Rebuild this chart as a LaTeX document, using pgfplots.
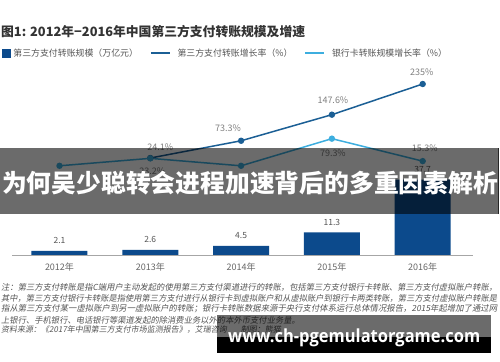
\documentclass[border=0pt]{standalone}
\usepackage{fontspec}
\setmainfont{Noto Sans CJK SC}
\newfontfamily\noteit{Noto Sans CJK SC}[FakeSlant=0.18]
\newfontfamily\wmfont{Open Sans}
\usepackage{pgfplots}
\pgfplotsset{compat=1.18}
\definecolor{barblue}{HTML}{0C4A8C}
\definecolor{darkline}{HTML}{1B5F95}
\definecolor{lightline}{HTML}{3DAEDF}
\definecolor{txtgray}{HTML}{555555}
\definecolor{pctgray}{HTML}{808080}
\definecolor{titlegray}{HTML}{333333}
\newcommand{\fs}[1]{\fontsize{#1}{#1}\selectfont}
\pgfplotsset{/pgf/number format/assume math mode=true}

\begin{document}
\begin{tikzpicture}[x=1bp,y=1bp]
\path[use as bounding box, fill=white] (0bp,0bp) rectangle (500bp,362bp);
% title
\node[anchor=west, inner sep=0, text=titlegray, font=\fs{12.8bp}\bfseries] at (1bp,330bp) {图1: 2012年−2016年中国第三方支付转账规模及增速};

% bars
\begin{axis}[at={(12bp,107bp)}, anchor=south west, scale only axis,
  width=461bp, height=90bp,
  xmin=-0.523, xmax=4.554, ymin=0, ymax=45,
  axis x line=bottom, axis y line=none,
  x axis line style={draw=black!35, line width=0.8bp, -},
  xtick={0,...,4}, xticklabels={2012年,2013年,2014年,2015年,2016年},
  major tick length=0,
  xticklabel style={anchor=center, yshift=-12bp, text=txtgray!90, font=\fs{9bp}},
  ybar, bar width=56bp, clip=false,
  nodes near coords={\pgfmathprintnumber[fixed,fixed zerofill,precision=1]{\pgfplotspointmeta}},
  every node near coord/.append style={anchor=center, yshift=10bp, text=txtgray, font=\fs{8.5bp}}]
\addplot[fill=barblue, draw=none] coordinates {(0,2.1) (1,2.6) (2,4.5) (3,11.3) (4,37.7)};
\end{axis}

% lines
\begin{axis}[at={(12bp,195.5bp)}, anchor=south west, scale only axis,
  width=461bp, height=87.75bp,
  xmin=-0.523, xmax=4.554, ymin=0, ymax=250,
  hide axis, clip=false,
  legend columns=3,
  legend style={at={(axis description cs:-0.0217,1.2934)}, anchor=west,
    draw=none, fill=none, inner sep=0pt, outer sep=0pt,
    nodes={inner sep=0pt, text=txtgray, font=\fs{8.9bp}},
    /tikz/every odd column/.append style={column sep=3bp},
    /tikz/every even column/.append style={column sep=12bp}}]
\addlegendimage{legend image code/.code={\fill[barblue] (0bp,-4bp) rectangle (8bp,4bp);}}
\addlegendentry{第三方支付转账规模（万亿元）}
\addplot[darkline, line width=1.5bp, mark=*, mark size=2.4bp,
  mark options={fill=darkline, draw=darkline},
  legend image code/.code={\draw[darkline, line width=1.6bp] (0bp,0bp) -- (19bp,0bp); \path (23bp,0bp);}]
  coordinates {(1,24.1) (2,73.3) (3,147.6) (4,235)};
\addlegendentry{第三方支付转账增长率（\%）}
\addplot[lightline, line width=1.5bp, mark=*, mark size=2.4bp,
  mark options={fill=lightline, draw=lightline},
  legend image code/.code={\draw[lightline, line width=1.6bp] (0bp,0bp) -- (19bp,0bp); \path (23bp,0bp);}]
  coordinates {(0,2) (1,23.2) (2,2) (3,79.3) (4,15.3)};
\addlegendentry{银行卡转账规模增长率（\%）}
\addplot[forget plot, draw=none, mark=none, point meta=y,
  nodes near coords={\pgfmathprintnumber[fixed,precision=1]{\pgfplotspointmeta}\%},
  visualization depends on={value \thisrow{dx}\as\dx},
  visualization depends on={value \thisrow{dy}\as\dy},
  every node near coord/.append style={anchor=center, xshift=\dx bp, yshift=\dy bp, text=pctgray, font=\fs{9bp}}]
  table {
x y dx dy
1 24.1 10 11
2 73.3 -13 13
3 147.6 1 14
4 235 -1 12
1 23.2 2 -13
3 79.3 1 -15
4 15.3 2 13
};
\end{axis}

% footnotes
\begin{scope}[every node/.style={anchor=west, inner sep=0, text=txtgray}]
\node at (1bp,75bp) {\resizebox{496bp}{!}{\noteit\fs{8.5bp}注：第三方支付转账是指C端用户主动发起的使用第三方支付渠道进行的转账，包括第三方支付银行卡转账、第三方支付虚拟账户转账，}};
\node at (1bp,64bp) {\resizebox{496bp}{!}{\noteit\fs{8.5bp}其中，第三方支付银行卡转账是指使用第三方支付进行从银行卡到虚拟账户和从虚拟账户到银行卡两类转账，第三方支付虚拟账户转账是}};
\node at (1bp,53bp) {\resizebox{496bp}{!}{\noteit\fs{8.5bp}指从第三方支付某一虚拟账户到另一虚拟账户的转账；银行卡转账数据来源于央行支付体系运行总体情况报告，2015年起增加了通过网}};
\node at (1bp,42bp) {\noteit\fs{8.3bp}上银行、手机银行、电话银行等渠道发起的除消费业务以外的本外币支付业务量。};
\node at (1bp,32bp) {\noteit\fs{8.0bp}资料来源：《2017年中国第三方支付市场监测报告》，艾瑞咨询\hspace{14bp}制图：熊猫};
\end{scope}

% banner overlay
\fill[black, opacity=0.58] (0bp,148bp) rectangle (498bp,214bp);
\draw[black!85, line width=1bp] (498bp,148bp) -- (498bp,214bp);
\node[text=white, font=\fs{24.8bp}\bfseries, inner sep=0] at (250bp,178.5bp) {为何吴少聪转会进程加速背后的多重因素解析};

% watermark
\fill[black, opacity=0.58] (217bp,25bp) rectangle (491bp,47bp);
\fill[black] (217bp,9bp) rectangle (491bp,25bp);
\node[anchor=base west, inner sep=0, text=white] at (228bp,19bp) {\resizebox{252bp}{13.7bp}{\wmfont\bfseries www.ch-pgemulatorgame.com}};
\end{tikzpicture}
\end{document}
